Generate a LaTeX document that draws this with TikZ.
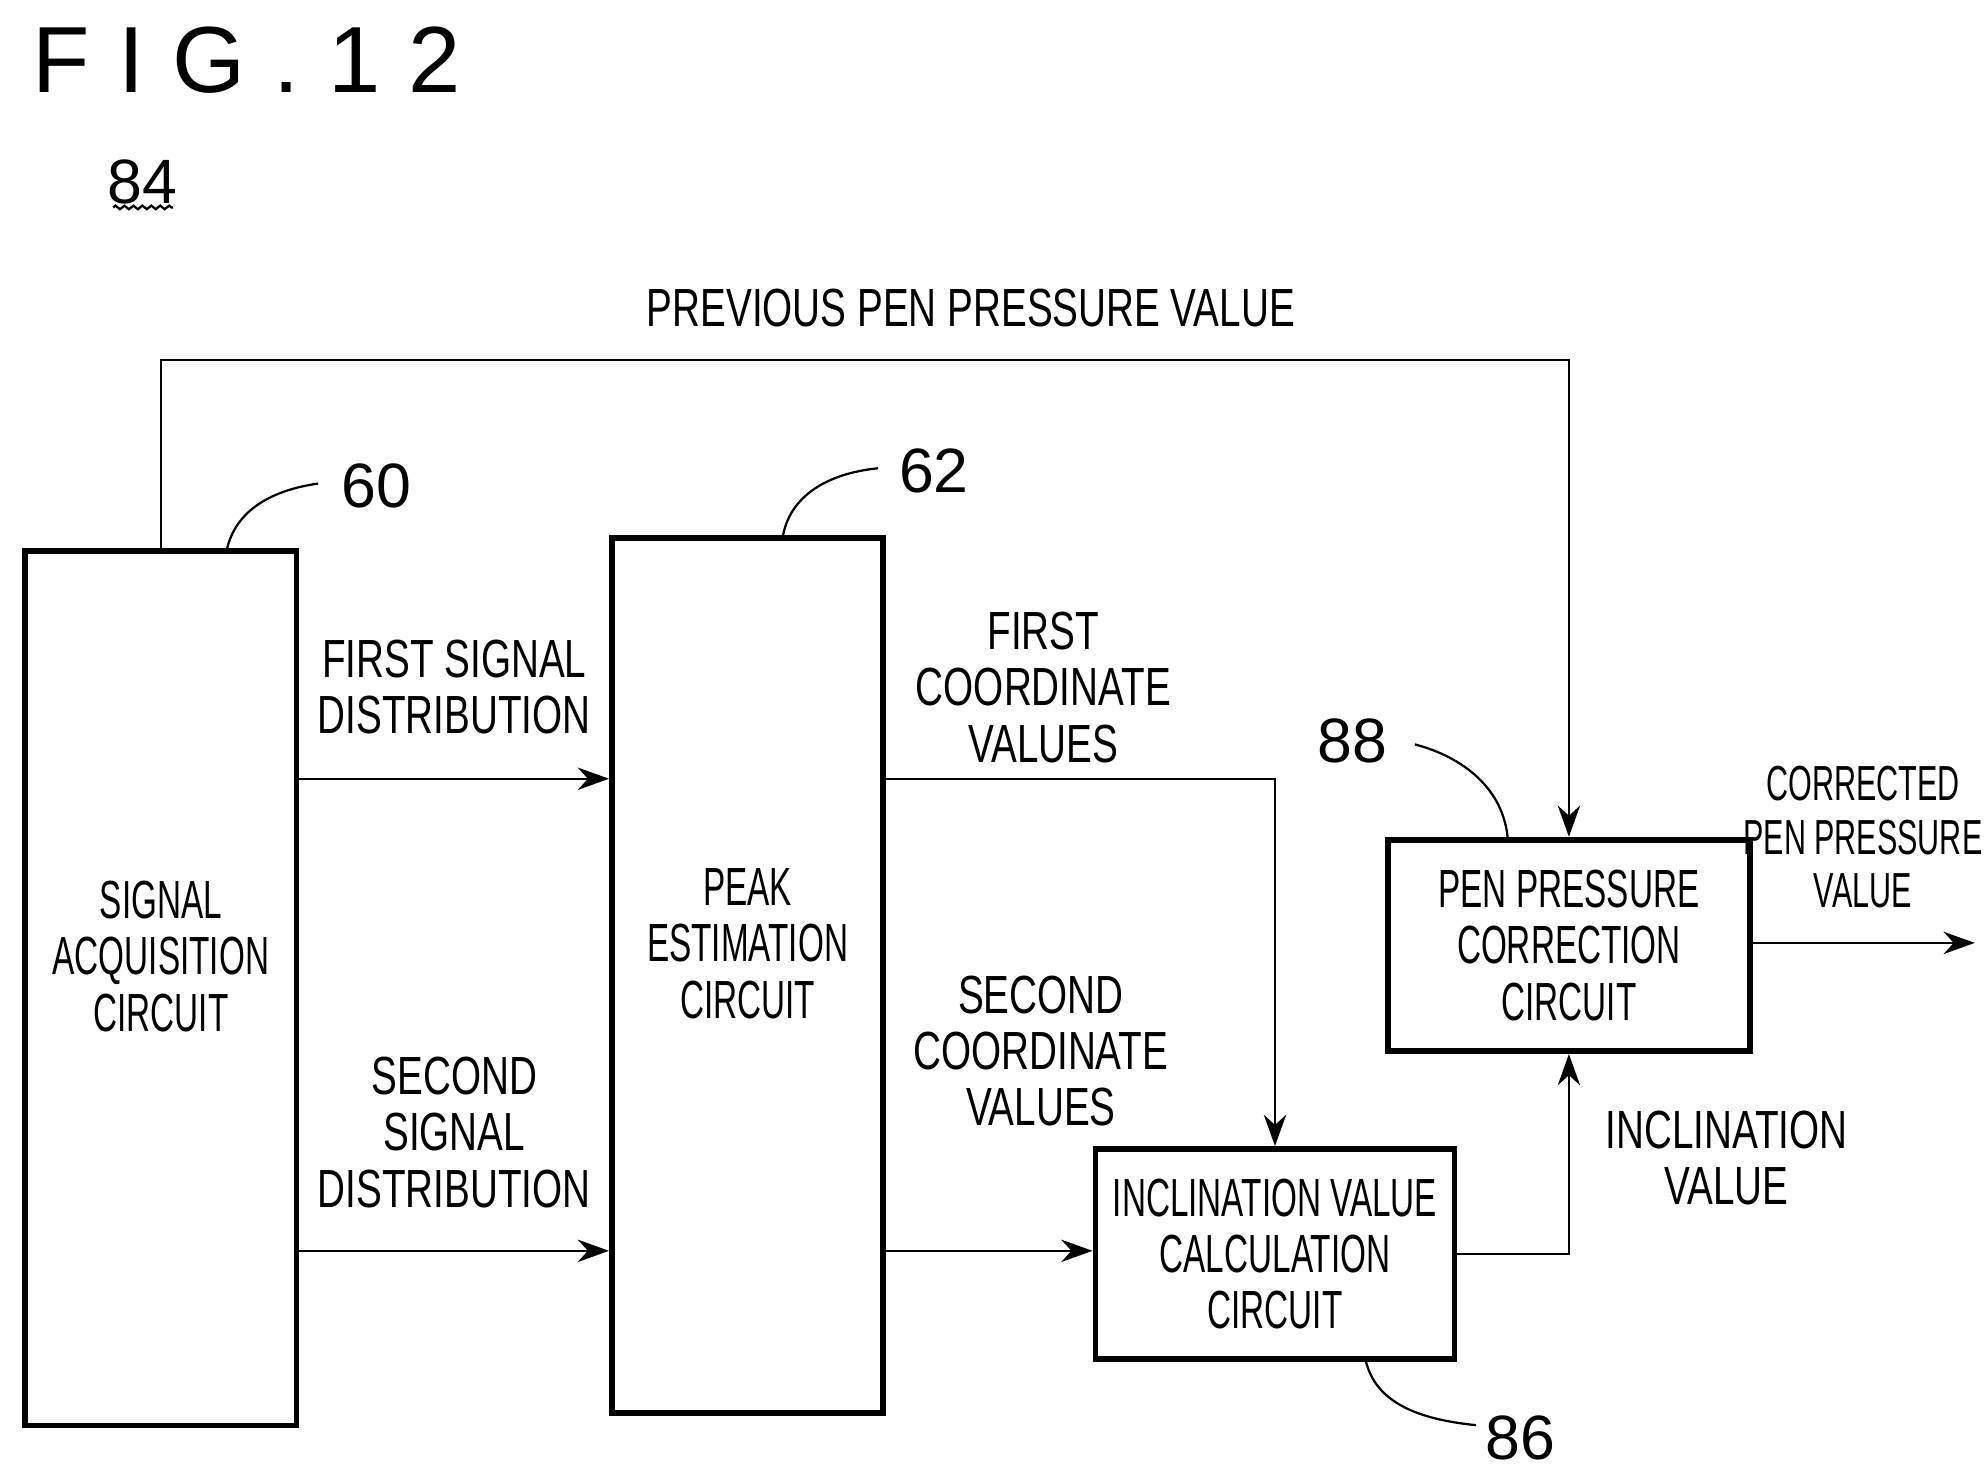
\documentclass[tikz,border=0pt]{standalone}
\usepackage{fontspec}
\setmainfont[FakeStretch=0.72]{Liberation Sans}
\newfontfamily\narrowfont[FakeStretch=0.62]{Liberation Sans}
\newfontfamily\numfont{Liberation Sans}
\newfontfamily\figfont[LetterSpace=30]{Liberation Sans}
\usetikzlibrary{positioning,arrows.meta,decorations.pathmorphing}

\tikzset{
  block/.style={draw,line width=1.3pt,align=center,inner sep=0pt,
    font=\narrowfont\fontsize{12}{12.6}\selectfont},
  lbl/.style={align=center,font=\fontsize{12}{12.6}\selectfont},
  ref/.style={font=\numfont\fontsize{14}{14}\selectfont},
  conn/.style={line width=0.5pt},
  flow/.style={conn,-{Stealth[length=7pt,width=5pt]}},
  lead/.style={line width=0.5pt}
}

\begin{document}
\begin{tikzpicture}[x=0.01cm,y=-0.01cm]
  \useasboundingbox (0,0) rectangle (1560,1159);
  % title
  \node[font=\figfont\fontsize{21}{21}\selectfont,anchor=west,inner sep=0pt] (fig) at (25,47) {FIG.12};
  \node[ref] (n84) at (112,143) {84};
  \draw[lead,decorate,decoration={zigzag,amplitude=0.4pt,segment length=2pt}]
    (89,163) -- (136,163);
  % blocks
  \node[block,minimum width=2.13cm,minimum height=6.87cm] (acq) at (126.5,776.5)
    {SIGNAL\\ACQUISITION\\CIRCUIT\\[0.06cm]\mbox{}};
  \node[block,minimum width=2.13cm,minimum height=6.87cm] (peak) at (587.5,766.5)
    {PEAK\\ESTIMATION\\CIRCUIT\\[0.06cm]\mbox{}};
  \node[block,minimum width=2.82cm,minimum height=1.65cm] (incl) at (1002,985.5)
    {INCLINATION VALUE\\CALCULATION\\CIRCUIT};
  \node[block,minimum width=2.84cm,minimum height=1.66cm] (corr) at (1233,743)
    {PEN PRESSURE\\CORRECTION\\CIRCUIT};
  % named anchors
  \coordinate (acqR1) at (acq.east |- 0,612);  \coordinate (peakL1) at (peak.west |- 0,612);
  \coordinate (acqR2) at (acq.east |- 0,983);  \coordinate (peakL2) at (peak.west |- 0,983);
  \coordinate (peakR1) at (peak.east |- 0,612);
  \coordinate (peakR2) at (peak.east |- 0,983);
  \coordinate (out) at (1552,741);
  % connectors
  \draw[flow] (acqR1) -- (peakL1);
  \draw[flow] (acqR2) -- (peakL2);
  \draw[flow] (peakR1) -| (incl.north);
  \draw[flow] (peakR2) -- (incl.west |- peakR2);
  \draw[flow] (incl.east) -| (corr.south);
  \draw[flow] (acq.north) |- (700,283) -| (corr.north);
  \draw[flow] (corr.east |- out) -- (out);
  % labels
  \node[lbl] (prev) at (763,242) {PREVIOUS PEN PRESSURE VALUE};
  \node[lbl] (fsd) at (357,540) {FIRST SIGNAL\\DISTRIBUTION};
  \node[lbl] (ssd) at (357,890) {SECOND\\SIGNAL\\DISTRIBUTION};
  \node[lbl] (fcv) at (820,540) {FIRST\\COORDINATE\\VALUES};
  \node[lbl] (scv) at (818,826) {SECOND\\COORDINATE\\VALUES};
  \node[lbl] (iv) at (1357,910) {INCLINATION\\VALUE};
  \node[lbl,font=\narrowfont\fontsize{11}{12}\selectfont] (cpv) at (1464,658)
    {CORRECTED\\PEN PRESSURE\\VALUE};
  % reference numerals
  \node[ref] (n60) at (296,382) {60};
  \draw[lead] (178,433) .. controls (185,400) and (215,385) .. (250,380);
  \node[ref] (n62) at (734,370) {62};
  \draw[lead] (615,423) .. controls (620,390) and (650,372) .. (690,368);
  \node[ref] (n88) at (1063,582) {88};
  \draw[lead] (1185,660) .. controls (1182,620) and (1150,595) .. (1112,585);
  \node[ref] (n86) at (1195,1130) {86};
  \draw[lead] (1073,1068) .. controls (1080,1100) and (1110,1115) .. (1160,1120);
\end{tikzpicture}
\end{document}
